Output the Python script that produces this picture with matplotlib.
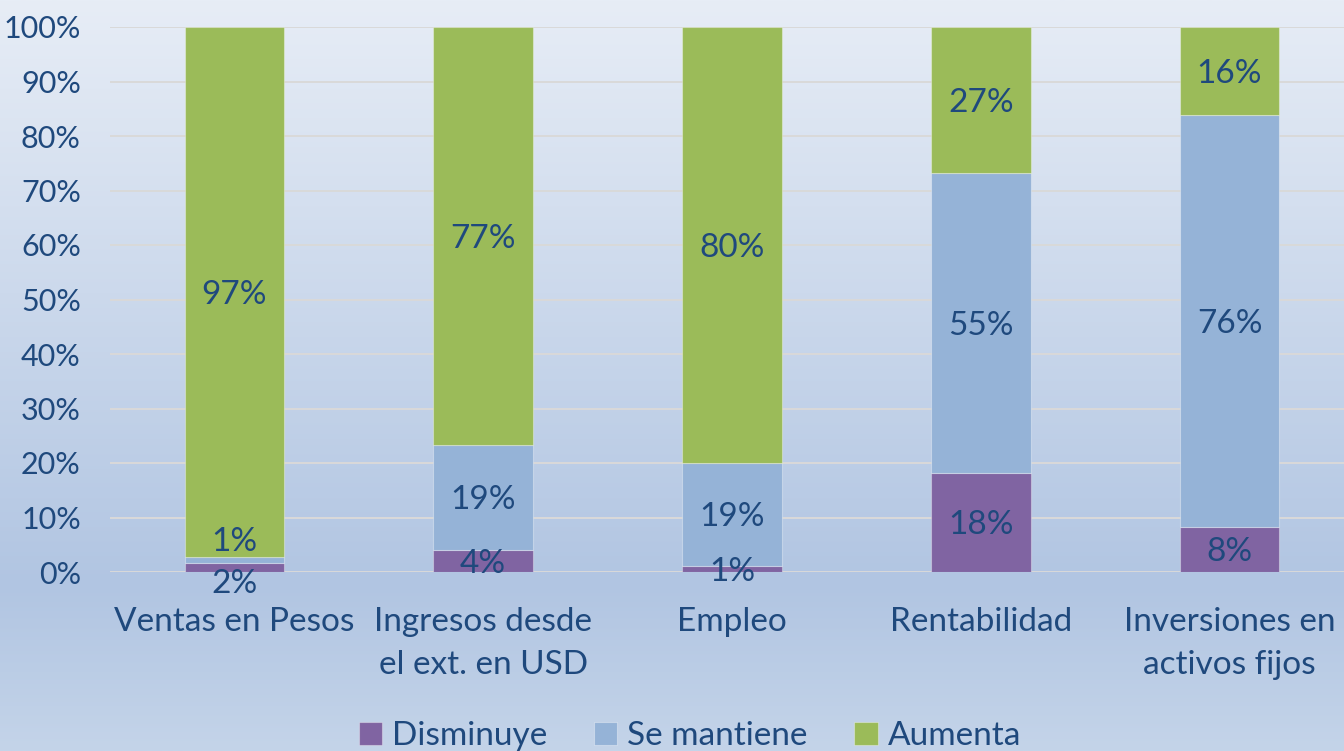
import numpy as np
import matplotlib
matplotlib.use("Agg")
import matplotlib.pyplot as plt
from matplotlib.colors import LinearSegmentedColormap

categories = ["Ventas en Pesos", "Ingresos desde\nel ext. en USD", "Empleo",
              "Rentabilidad", "Inversiones en\nactivos fijos"]
series_names = ["Disminuye", "Se mantiene", "Aumenta"]
disminuye = [1.6, 4.0, 1.1, 18.2, 8.3]
se_mantiene = [1.15, 19.3, 18.9, 55.0, 75.6]
aumenta = [97.25, 76.7, 80.0, 26.8, 16.1]
yticks = list(range(0, 101, 10))

colors = ["#8064A2", "#95B3D7", "#9BBB59"]
text_color = "#1F497D"
font = "Lato"

fig = plt.figure(figsize=(13.44, 7.51), dpi=100)

# background gradient
bg = fig.add_axes([0, 0, 1, 1], zorder=-10)
cmap = LinearSegmentedColormap.from_list(
    "bg", [(0.0, "#E7EDF6"), (0.78, "#B1C5E2"), (1.0, "#C4D4E9")])
grad = np.linspace(0, 1, 256).reshape(-1, 1)
bg.imshow(grad, aspect="auto", cmap=cmap, extent=[0, 1, 0, 1], origin="upper")
bg.axis("off")

ax = fig.add_axes([110 / 1344, 179 / 751, 1 - 110 / 1344, 545 / 751])
ax.set_facecolor("none")

x = np.arange(len(categories))
width = 0.4
bottom = np.zeros(len(categories))
series = [disminuye, se_mantiene, aumenta]
for name, vals, c in zip(series_names, series, colors):
    vals = np.array(vals)
    ax.bar(x, vals, width, bottom=bottom, color=c, label=name, zorder=3,
           edgecolor=(1, 1, 1, 0.35), linewidth=0.8)
    for i, v in enumerate(vals):
        yc = bottom[i] + v / 2
        dy = -2
        # first column: tiny segments, labels pushed apart as in the original
        if i == 0 and name == "Disminuye":
            dy = -12
        elif i == 0 and name == "Se mantiene":
            dy = 13
        ax.annotate(f"{v:.0f}%", (x[i], yc), xytext=(0, dy),
                    textcoords="offset points", ha="center", va="center",
                    fontsize=24, color=text_color, family=font, zorder=5)
    bottom += vals

ax.set_xlim(-0.5, 4.46)
ax.set_ylim(0, 100)
ax.set_yticks(yticks)
ax.set_yticklabels([f"{t}%" for t in yticks])
ax.yaxis.grid(True, color="#D9D9D9", linewidth=1.4, zorder=0)
ax.set_axisbelow(True)
ax.set_xticks(x)
ax.set_xticklabels(categories, linespacing=1.55)
ax.tick_params(axis="both", length=0, labelcolor=text_color)
ax.tick_params(axis="y", pad=21, labelsize=22)
ax.tick_params(axis="x", pad=25, labelsize=24)
for lbl in ax.get_xticklabels() + ax.get_yticklabels():
    lbl.set_family(font)
for s in ax.spines.values():
    s.set_visible(False)

fig.legend(loc="center", bbox_to_anchor=(690 / 1344, 1 - 736 / 751), ncol=3,
           frameon=False, prop={"family": font, "size": 24},
           labelcolor=text_color, handlelength=0.7, handleheight=0.7,
           handletextpad=0.3, columnspacing=1.4)

fig.savefig("out.png", dpi=100)
